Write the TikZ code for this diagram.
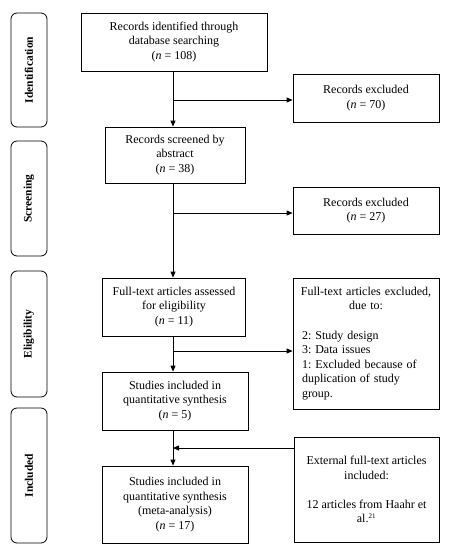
\documentclass[tikz,border=0pt]{standalone}
\usepackage{fontspec}
\setmainfont{Liberation Serif}
\usetikzlibrary{arrows.meta}
\frenchspacing
\begin{document}
\begin{tikzpicture}[x=1pt,y=-1pt,
  font=\fontsize{12}{14.6}\selectfont,
  box/.style={draw,line width=0.8pt,align=center,inner sep=0pt},
  side/.style={draw,line width=0.8pt,rounded corners=6pt,minimum width=36pt,inner sep=0pt},
  sidelabel/.style={rotate=90,font=\fontsize{11.5}{13}\selectfont\bfseries},
  arr/.style={line width=0.8pt,-{Triangle[length=6pt,width=5pt]}},
  ln/.style={line width=0.8pt}]
\useasboundingbox (0,0) rectangle (450,550);
% side boxes
\node[side,minimum height=114pt] (s1) at (29,70) {};
\node[sidelabel] (l1) at (s1.center) {Identification};
\node[side,minimum height=115pt] (s2) at (29,198.5) {};
\node[sidelabel] (l2) at (s2.center) {Screening};
\node[side,minimum height=126pt] (s3) at (29,334) {};
\node[sidelabel] (l3) at (s3.center) {Eligibility};
\node[side,minimum height=135pt] (s4) at (29,475.5) {};
\node[sidelabel] (l4) at (s4.center) {Included};
% main boxes
\node[box,minimum width=186pt,minimum height=58pt] (b1) at (174,42)
  {Records identified through\\ database searching\\ (\textit{n} = 108)};
\node[box,minimum width=140pt,minimum height=56pt] (b2) at (175,155)
  {Records screened by\\ abstract\\ (\textit{n} = 38)};
\node[box,minimum width=143pt,minimum height=58pt] (b3) at (174,307)
  {Full-text articles assessed\\ for eligibility\\ (\textit{n} = 11)};
\node[box,minimum width=146pt,minimum height=58pt] (b4) at (175,401)
  {Studies included in\\ quantitative synthesis\\ (\textit{n} = 5)};
\node[box,minimum width=146pt,minimum height=77pt] (b5) at (175,504.5)
  {Studies included in\\ quantitative synthesis\\ (meta-analysis)\\ (\textit{n} = 17)};
% right boxes
\node[box,minimum width=146pt,minimum height=48pt] (e1) at (366,98)
  {Records excluded\\ (\textit{n} = 70)};
\node[box,minimum width=146pt,minimum height=47pt] (e2) at (366,210.5)
  {Records excluded\\ (\textit{n} = 27)};
\node[box,minimum width=146pt,minimum height=131pt,text width=128pt,align=left] (e3) at (366,343.5)
  {\makebox[\linewidth]{Full-text articles excluded,}\\
   \makebox[\linewidth]{due to:}\\[14.6pt]
   2: Study design\\ 3: Data issues\\ 1: Excluded because of\\ duplication of study\\ group.};
\node[box,minimum width=145pt,minimum height=105pt] (ex) at (366.5,489.5)
  {External full-text articles\\ included:\\[14.6pt] 12 articles from Haahr et\\ al.\textsuperscript{\scriptsize 21}};
% connectors
\coordinate (j1) at (173,100);
\coordinate (j2) at (173,213);
\coordinate (j3) at (173,351);
\coordinate (j4) at (173,448);
\draw[arr] (b1.south -| j1) -- (b2.north -| j1);
\draw[arr] (j1) -- (j1 -| e1.west);
\draw[arr] (b2.south -| j2) -- (b3.north -| j2);
\draw[arr] (j2) -- (j2 -| e2.west);
\draw[arr] (b3.south -| j3) -- (b4.north -| j3);
\draw[arr] (j3) -- (j3 -| e3.west);
\draw[arr] (b4.south -| j4) -- (b5.north -| j4);
\draw[arr] (j4 -| ex.west) -- (j4);
\end{tikzpicture}
\end{document}
